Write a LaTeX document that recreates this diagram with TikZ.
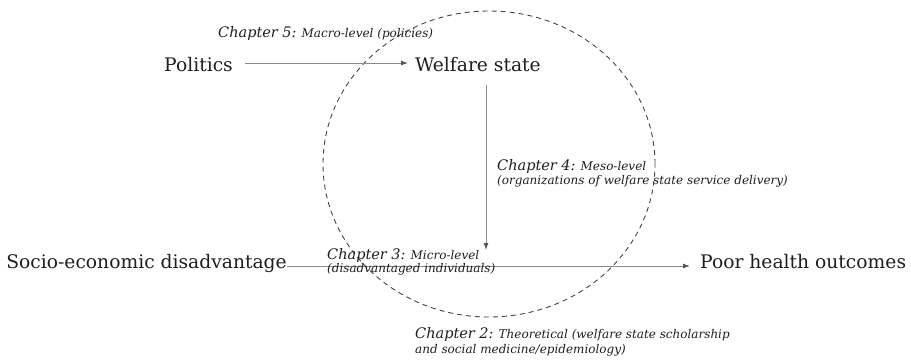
\documentclass[tikz,border=0pt]{standalone}
\usepackage{fontspec}
\setmainfont{DejaVu Serif}
\usetikzlibrary{arrows.meta}
\definecolor{txt}{HTML}{1E1E1E}
\definecolor{arr}{HTML}{8A8A8A}
\definecolor{tipc}{HTML}{555555}
\definecolor{circ}{HTML}{444444}
\newcommand{\mainsz}{\fontsize{18.7}{22}\selectfont}
\newcommand{\chapsz}{\fontsize{14.5}{16}\selectfont\itshape}
\newcommand{\subsz}{\fontsize{12}{14}\selectfont\itshape}
\tikzset{
  mainlbl/.style={inner sep=0pt, text=txt, font=\mainsz},
  chaplbl/.style={inner sep=0pt, text=txt, align=left, anchor=north west},
  conn/.style={draw=arr, line width=0.9pt, -{Latex[length=7pt,width=5pt,color=tipc]}},
  ring/.style={draw=circ, line width=0.9pt, dash pattern=on 5pt off 4pt},
}
\begin{document}
\begin{tikzpicture}[x=1pt,y=-1pt]
\useasboundingbox (0,0) rectangle (911,360);
% dashed circle
\draw[ring] (489,164) ellipse [x radius=166pt, y radius=153pt];
% main nodes
\node[mainlbl, anchor=base east] (pol) at (233,71) {Politics};
\node[mainlbl, anchor=base west] (ws) at (415,71) {Welfare state};
\node[mainlbl, anchor=base east] (socio) at (287,268) {Socio-economic disadvantage};
\node[mainlbl, anchor=base west] (poor) at (700,268) {Poor health outcomes};
\coordinate (vtop) at (486,85);
\coordinate (vend) at (486,250);
% connectors
\draw[conn] ([xshift=12pt,yshift=8pt]pol.base east) -- ([xshift=-7pt,yshift=8pt]ws.base west);
\draw[conn] (vtop) -- (vend);
\draw[conn] ([yshift=2pt]socio.base east) -- ([xshift=-10pt,yshift=2pt]poor.base west);
% chapter labels
\node[chaplbl, font=\subsz] (c5) at (218,26) {{\chapsz Chapter 5:} Macro-level (policies)};
\node[chaplbl, font=\fontsize{12}{14}\selectfont\itshape] (c4) at (497,159) {{\chapsz Chapter 4:} Meso-level\\(organizations of welfare state service delivery)};
\node[chaplbl, font=\fontsize{12}{12}\selectfont\itshape] (c3) at (327,248) {{\chapsz Chapter 3:} Micro-level\\(disadvantaged individuals)};
\node[chaplbl, font=\fontsize{12}{15}\selectfont\itshape] (c2) at (415,327) {{\chapsz Chapter 2:} Theoretical (welfare state scholarship\\and social medicine/epidemiology)};
\end{tikzpicture}
\end{document}
